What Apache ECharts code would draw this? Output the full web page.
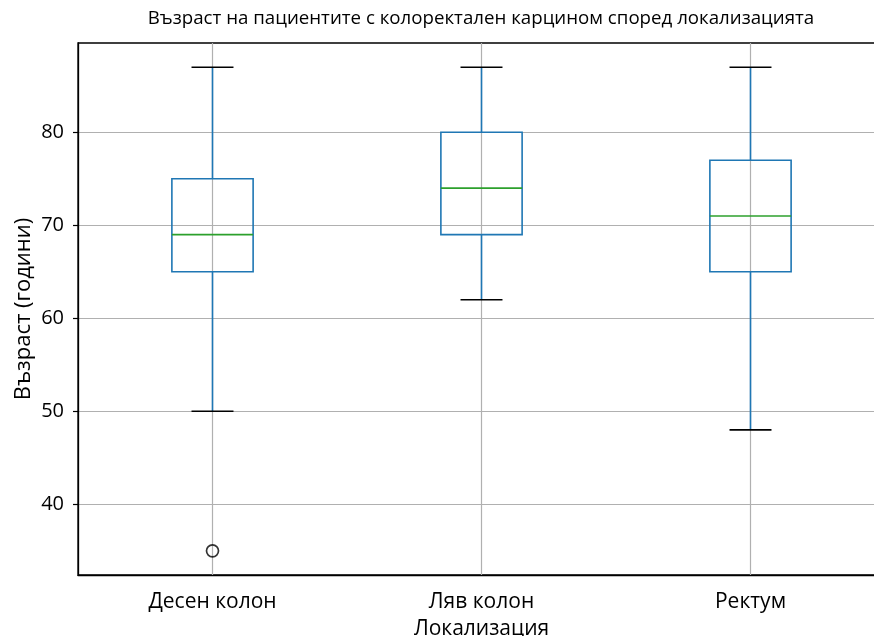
<!DOCTYPE html>
<html>
<head>
<meta charset="utf-8">
<script src="https://cdn.jsdelivr.net/npm/echarts@6/dist/echarts.min.js"></script>
<style>
  html, body { margin: 0; padding: 0; background: #fff; overflow: hidden; }
  /* the plot frame runs a little past the right edge of the page */
  #chart { width: 885px; height: 636px; }
</style>
</head>
<body>
<div id="chart"></div>
<script>
// Age distribution per tumour location (box-and-whisker summary)
const categories = ['Десен колон', 'Ляв колон', 'Ректум'];
const whiskerLow = [50, 62, 48];
const q1 = [65, 69, 65];
const median = [69, 74, 71];
const q3 = [75, 80, 77];
const whiskerHigh = [87, 87, 87];
const outliers = [[0, 35]];
const yTicks = [40, 50, 60, 70, 80];

const titleText = 'Възраст на пациентите с колоректален карцином според локализацията';
const yName = 'Възраст (години)';
const xName = 'Локализация';

const boxData = categories.map((c, i) => [i, whiskerLow[i], q1[i], median[i], q3[i], whiskerHigh[i]]);

const BLUE = '#1f77b4';
const GREEN = '#2ca02c';
const GRIDC = '#b0b0b0';
const FONT = 'Open Sans';

function renderBox(params, api) {
  const x = api.value(0);
  const band = api.size([1, 0])[0];
  const half = band * 0.151;
  const capHalf = band * 0.078;
  const lo = api.coord([x, api.value(1)]);
  const b1 = api.coord([x, api.value(2)]);
  const md = api.coord([x, api.value(3)]);
  const b3 = api.coord([x, api.value(4)]);
  const hi = api.coord([x, api.value(5)]);
  const cx = lo[0];
  const line = (x1, y1, x2, y2, color) => ({
    type: 'line',
    shape: { x1, y1, x2, y2 },
    style: { stroke: color, lineWidth: 1.6, fill: null }
  });
  return {
    type: 'group',
    children: [
      line(cx, lo[1], cx, b1[1], BLUE),
      line(cx, b3[1], cx, hi[1], BLUE),
      line(cx - capHalf, lo[1], cx + capHalf, lo[1], '#000'),
      line(cx - capHalf, hi[1], cx + capHalf, hi[1], '#000'),
      {
        type: 'rect',
        shape: { x: cx - half, y: b3[1], width: 2 * half, height: b1[1] - b3[1] },
        style: { stroke: BLUE, lineWidth: 1.6, fill: null }
      },
      line(cx - half, md[1], cx + half, md[1], GREEN)
    ]
  };
}

const chart = echarts.init(document.getElementById('chart'));
chart.setOption({
  animation: false,
  backgroundColor: '#fff',
  graphic: [{
    type: 'text',
    x: 481,
    y: 19,
    style: {
      text: titleText,
      align: 'center',
      verticalAlign: 'middle',
      font: '18.7px "Open Sans"',
      fill: '#000'
    }
  }],
  grid: {
    left: 78, right: 0, top: 43, bottom: 61,
    show: true, borderColor: '#000', borderWidth: 1.3, backgroundColor: 'transparent',
    containLabel: false,
    outerBoundsMode: 'none'
  },
  xAxis: {
    type: 'category',
    data: categories,
    boundaryGap: true,
    name: xName,
    nameLocation: 'middle',
    nameGap: 44,
    nameMoveOverlap: false,
    nameTextStyle: { fontFamily: FONT, fontSize: 21, color: '#000' },
    axisLine: { lineStyle: { color: '#000', width: 1.3 } },
    axisTick: { alignWithLabel: true, length: 5, lineStyle: { color: '#000', width: 1.2 } },
    axisLabel: { fontFamily: FONT, fontSize: 21, color: '#000', margin: 17 },
    splitLine: { show: false }
  },
  yAxis: {
    type: 'value',
    min: 32.4,
    max: 89.6,
    name: yName,
    nameLocation: 'middle',
    nameGap: 43,
    nameMoveOverlap: false,
    nameRotate: 90,
    nameTextStyle: { fontFamily: FONT, fontSize: 22, color: '#000' },
    axisLine: { show: true, lineStyle: { color: '#000', width: 1.3 } },
    axisTick: { show: true, length: 5, customValues: yTicks, lineStyle: { color: '#000', width: 1.2 } },
    axisLabel: { fontFamily: FONT, fontSize: 20, color: '#000', margin: 14, customValues: yTicks },
    splitLine: { show: true, lineStyle: { color: GRIDC, width: 1.2 } }
  },
  series: [
    {
      type: 'line',
      data: [],
      silent: true,
      z: 1,
      markLine: {
        silent: true,
        z: 1,
        symbol: 'none',
        label: { show: false },
        lineStyle: { color: GRIDC, width: 1.2, type: 'solid' },
        data: categories.map(c => ({ xAxis: c }))
      }
    },
    {
      type: 'custom',
      renderItem: renderBox,
      data: boxData,
      encode: { x: 0, y: [1, 2, 3, 4, 5] },
      z: 5
    },
    {
      type: 'scatter',
      data: outliers,
      symbol: 'circle',
      symbolSize: 12,
      itemStyle: { color: 'transparent', borderColor: '#000', borderWidth: 1.7 },
      z: 6
    }
  ]
});
</script>
</body>
</html>
